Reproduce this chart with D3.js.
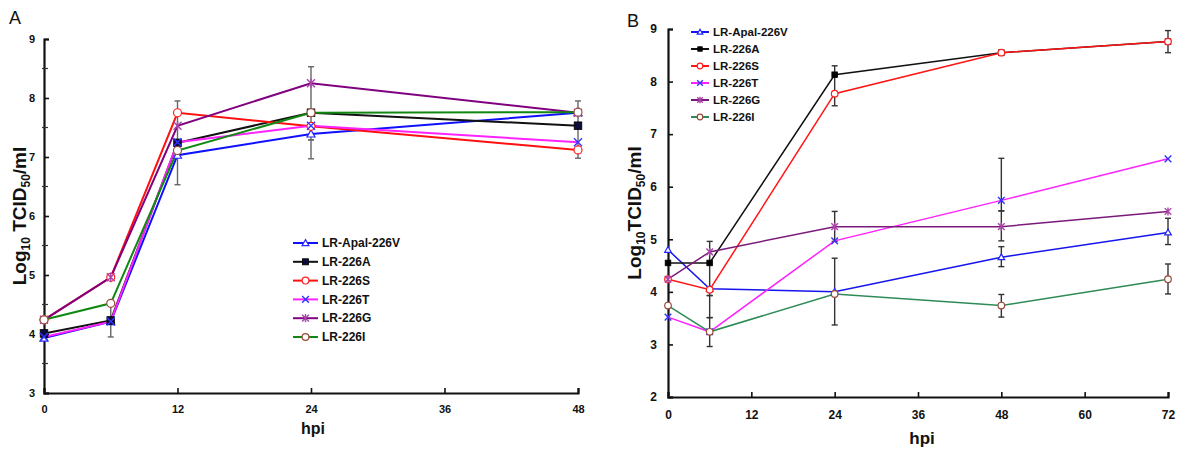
<!DOCTYPE html>
<html>
<head>
<meta charset="utf-8">
<script src="https://cdn.jsdelivr.net/npm/d3@7"></script>
<style>
  html, body { margin: 0; padding: 0; background: #fff; }
  svg { display: block; font-family: "Liberation Sans", Arial, sans-serif; }
</style>
</head>
<body>
<svg id="chart" width="1200" height="462"></svg>
<script>
// ---------- DATA ----------
const seriesNames = ["LR-Apal-226V", "LR-226A", "LR-226S", "LR-226T", "LR-226G", "LR-226I"];

// Panel A
const hoursA = [0, 6, 12, 24, 48];
const valsA_V = [3.93, 4.21, 7.03, 7.39, 7.75];
const valsA_A = [4.01, 4.23, 7.24, 7.75, 7.53];
const valsA_S = [4.24, 4.96, 7.75, 7.52, 7.12];
const valsA_T = [3.95, 4.21, 7.25, 7.53, 7.25];
const valsA_G = [4.24, 4.96, 7.53, 8.25, 7.75];
const valsA_I = [4.24, 4.52, 7.11, 7.75, 7.76];
const xTicksA = [0, 12, 24, 36, 48];
const yTicksA = [3, 4, 5, 6, 7, 8, 9];
const errA = [
  { x: 6, lo: 3.95, hi: 4.52 },
  { x: 12, lo: 6.53, hi: 7.95 },
  { x: 24, lo: 6.97, hi: 7.29 },
  { x: 24, lo: 7.29, hi: 8.53 },
  { x: 48, lo: 6.98, hi: 7.95 }
];

// Panel B
const hoursB = [0, 6, 24, 48, 72];
const valsB_V = [4.80, 4.06, 4.00, 4.66, 5.13];
const valsB_A = [4.55, 4.55, 8.13, 8.55, 8.76];
const valsB_S = [4.24, 4.04, 7.77, 8.55, 8.76];
const valsB_T = [3.52, 3.24, 4.97, 5.74, 6.53];
const valsB_G = [4.24, 4.76, 5.24, 5.24, 5.53];
const valsB_I = [3.74, 3.24, 3.96, 3.74, 4.24];
const xTicksB = [0, 12, 24, 36, 48, 60, 72];
const yTicksB = [2, 3, 4, 5, 6, 7, 8, 9];
const errB = [
  { x: 6, lo: 2.96, hi: 3.51 },
  { x: 6, lo: 3.51, hi: 3.93 },
  { x: 6, lo: 3.93, hi: 4.96 },
  { x: 24, lo: 7.54, hi: 8.30 },
  { x: 24, lo: 4.96, hi: 5.53 },
  { x: 24, lo: 3.37, hi: 4.64 },
  { x: 48, lo: 4.97, hi: 5.54 },
  { x: 48, lo: 5.54, hi: 6.54 },
  { x: 48, lo: 4.48, hi: 4.86 },
  { x: 48, lo: 3.52, hi: 3.95 },
  { x: 72, lo: 8.55, hi: 8.97 },
  { x: 72, lo: 4.90, hi: 5.40 },
  { x: 72, lo: 3.96, hi: 4.53 }
];

// ---------- STYLES ----------
const lineColorsA = ["#1010ff", "#111111", "#ff1010", "#ff22ff", "#800080", "#118811"];
const lineColorsB = ["#1515ee", "#111111", "#ff1515", "#ff22ff", "#7a1a7a", "#2e8b57"];
const markerTypes = ["tri", "square", "circle", "x", "star", "circle"];
const markerColors = ["#2222ff", "#0b0b3c", "#ff2020", "#3333ff", "#aa44aa", "#9a4a3a"];

const svg = d3.select("#chart");

function drawMarker(g, type, color, cx, cy, s, squareFill) {
  if (type === "tri") {
    const h = s * 1.0;
    g.append("path")
      .attr("d", `M${cx},${cy - h} L${cx + h},${cy + h * 0.75} L${cx - h},${cy + h * 0.75} Z`)
      .attr("fill", "#fff").attr("stroke", color).attr("stroke-width", 1.2);
  } else if (type === "square") {
    g.append("rect").attr("x", cx - s).attr("y", cy - s).attr("width", 2 * s).attr("height", 2 * s)
      .attr("fill", squareFill || color).attr("stroke", "#000").attr("stroke-width", 0.8);
  } else if (type === "circle") {
    g.append("circle").attr("cx", cx).attr("cy", cy).attr("r", s)
      .attr("fill", "#fff").attr("stroke", color).attr("stroke-width", 1.2);
  } else if (type === "x") {
    g.append("path")
      .attr("d", `M${cx - s},${cy - s} L${cx + s},${cy + s} M${cx - s},${cy + s} L${cx + s},${cy - s}`)
      .attr("stroke", color).attr("stroke-width", 1.4).attr("fill", "none");
  } else if (type === "star") {
    g.append("path")
      .attr("d", `M${cx - s},${cy - s} L${cx + s},${cy + s} M${cx - s},${cy + s} L${cx + s},${cy - s} M${cx},${cy - s * 1.2} L${cx},${cy + s * 1.2}`)
      .attr("stroke", color).attr("stroke-width", 1.4).attr("fill", "none");
  }
}

function panel(cfg) {
  const x = d3.scaleLinear().domain(cfg.xDomain).range([cfg.left, cfg.right]);
  const y = d3.scaleLinear().domain(cfg.yDomain).range([cfg.bottom, cfg.top]);
  const g = svg.append("g");

  // axes
  const yAxis = g.append("g").attr("transform", `translate(${cfg.left},0)`)
    .call(d3.axisLeft(y).tickValues(cfg.yTicks).tickSize(-5).tickPadding(cfg.yPad).tickFormat(d3.format("d")));
  const xAxis = g.append("g").attr("transform", `translate(0,${cfg.bottom})`)
    .call(d3.axisBottom(x).tickValues(cfg.xTicks).tickSize(-5).tickPadding(cfg.xPad).tickFormat(d3.format("d")));
  [xAxis, yAxis].forEach(a => {
    a.select(".domain").attr("stroke", "#111").attr("stroke-width", 2.2);
    a.selectAll(".tick line").attr("stroke", "#111").attr("stroke-width", 1.6);
    a.selectAll(".tick text").attr("fill", "#111").attr("font-weight", "bold")
      .attr("font-size", cfg.tickFont).attr("font-family", "'Liberation Sans', Arial, sans-serif");
  });
  if (cfg.minorY) {
    g.append("g").selectAll("line").data(cfg.minorY).join("line")
      .attr("x1", cfg.left - 2).attr("x2", cfg.left + 4)
      .attr("y1", d => y(d)).attr("y2", d => y(d))
      .attr("stroke", "#333").attr("stroke-width", 1.2);
  }

  // error bars
  const eb = g.append("g");
  cfg.err.forEach(e => {
    const ex = x(e.x);
    eb.append("line").attr("x1", ex).attr("x2", ex).attr("y1", y(e.lo)).attr("y2", y(e.hi))
      .attr("stroke", cfg.errColor).attr("stroke-width", 1.4);
    [e.lo, e.hi].forEach(v => eb.append("line").attr("x1", ex - 3).attr("x2", ex + 3)
      .attr("y1", y(v)).attr("y2", y(v)).attr("stroke", cfg.errColor).attr("stroke-width", 1.4));
  });

  // lines
  const line = d3.line().x(d => x(d[0])).y(d => y(d[1]));
  cfg.series.forEach((vals, i) => {
    const pts = cfg.hours.map((h, j) => [h, vals[j]]);
    g.append("path").datum(pts).attr("d", line).attr("fill", "none")
      .attr("stroke", cfg.lineColors[i]).attr("stroke-width", cfg.lineWidth);
  });
  // markers
  cfg.series.forEach((vals, i) => {
    const mg = g.append("g");
    cfg.hours.forEach((h, j) => drawMarker(mg, markerTypes[i], markerColors[i], x(h), y(vals[j]),
      markerTypes[i] === "square" ? cfg.sq : cfg.ms, cfg.squareFill));
  });

  // legend
  const lg = g.append("g");
  seriesNames.forEach((name, i) => {
    const ly = cfg.legY + i * cfg.legStep;
    lg.append("line").attr("x1", cfg.legX).attr("x2", cfg.legX + cfg.legLen).attr("y1", ly).attr("y2", ly)
      .attr("stroke", cfg.lineColors[i]).attr("stroke-width", 2);
    drawMarker(lg, markerTypes[i], markerColors[i], cfg.legX + cfg.legLen / 2, ly,
      markerTypes[i] === "square" ? cfg.sq * 0.8 : cfg.ms * 0.85, cfg.squareFill);
    lg.append("text").attr("x", cfg.legX + cfg.legLen + 4).attr("y", ly + 4.2)
      .attr("font-size", cfg.legFont).attr("font-weight", "bold").attr("fill", "#111").text(name);
  });

  // axis titles
  g.append("text").attr("x", cfg.xLabelX).attr("y", cfg.xLabelY).attr("text-anchor", "middle")
    .attr("font-size", cfg.xLabelFont).attr("font-weight", "bold").attr("fill", "#111").text("hpi");
  const yl = g.append("text")
    .attr("transform", `translate(${cfg.yLabelX},${cfg.yLabelY}) rotate(-90)`)
    .attr("text-anchor", "middle").attr("font-size", 19).attr("font-weight", "bold").attr("fill", "#111");
  yl.append("tspan").text("Log");
  yl.append("tspan").attr("font-size", 12).attr("dy", 4).text("10");
  yl.append("tspan").attr("dy", -4).text(cfg.ySpace ? " TCID" : "TCID");
  yl.append("tspan").attr("font-size", 12).attr("dy", 4).text("50");
  yl.append("tspan").attr("dy", -4).text("/ml");

  // panel letter
  g.append("text").attr("x", cfg.letterX).attr("y", cfg.letterY).attr("font-size", 18)
    .attr("fill", "#111").text(cfg.letter);
}

panel({
  letter: "A", letterX: 9, letterY: 24,
  xDomain: [0, 48], yDomain: [3, 9],
  left: 44, right: 578, top: 39, bottom: 393,
  xTicks: xTicksA, yTicks: yTicksA, minorY: [3.5, 4.5, 5.5, 6.5, 7.5, 8.5],
  xPad: 12, yPad: 9, tickFont: 11,
  hours: hoursA,
  series: [valsA_V, valsA_A, valsA_S, valsA_T, valsA_G, valsA_I],
  lineColors: lineColorsA, lineWidth: 2,
  ms: 4, sq: 3.8, squareFill: "#0b0b3c",
  err: errA, errColor: "#666",
  legX: 293, legY: 243, legStep: 18.8, legLen: 25, legFont: 12,
  xLabelX: 313, xLabelY: 434, xLabelFont: 16,
  yLabelX: 26, yLabelY: 216, ySpace: true
});

panel({
  letter: "B", letterX: 627, letterY: 27,
  xDomain: [0, 72], yDomain: [2, 9],
  left: 668, right: 1168, top: 29, bottom: 397,
  xTicks: xTicksB, yTicks: yTicksB, minorY: null,
  xPad: 13, yPad: 11, tickFont: 12,
  hours: hoursB,
  series: [valsB_V, valsB_A, valsB_S, valsB_T, valsB_G, valsB_I],
  lineColors: lineColorsB, lineWidth: 1.5,
  ms: 3.3, sq: 2.8, squareFill: "#000",
  err: errB, errColor: "#333",
  legX: 691, legY: 32, legStep: 17, legLen: 18, legFont: 11.5,
  xLabelX: 922, xLabelY: 444, xLabelFont: 17,
  yLabelX: 641, yLabelY: 213, ySpace: false
});
</script>
</body>
</html>
